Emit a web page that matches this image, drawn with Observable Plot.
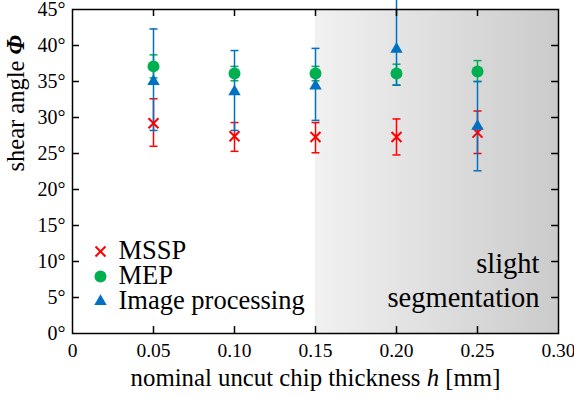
<!DOCTYPE html>
<html>
<head>
<meta charset="utf-8">
<script src="https://cdn.jsdelivr.net/npm/d3@7"></script>
<script src="https://cdn.jsdelivr.net/npm/@observablehq/plot@0.6"></script>
<style>
  html, body { margin: 0; padding: 0; background: #fff; font-family: 'Liberation Serif', serif; }
  #chart { width: 574px; height: 401px; }
</style>
</head>
<body>
<div id="chart"></div>
<script>
// ---- data ----
const h = [0.05, 0.10, 0.15, 0.20, 0.25];
const msspMean = [29.2, 27.4, 27.3, 27.3, 27.9];
const msspLo   = [26.0, 25.3, 25.1, 24.8, 25.0];
const msspHi   = [32.6, 29.3, 29.3, 29.8, 30.9];
const mepMean  = [37.1, 36.1, 36.1, 36.1, 36.4];
const mepLo    = [35.5, 35.1, 35.1, 34.5, 35.0];
const mepHi    = [38.7, 37.1, 37.1, 37.4, 37.9];
const ipMean   = [35.0, 33.6, 34.4, 39.5, 28.8];
const ipLo     = [28.2, 28.2, 29.6, 34.5, 22.6];
const ipHi     = [42.3, 39.3, 39.6, 47.0, 35.0];

const seriesNames = ["MSSP", "MEP", "Image processing"];
const seriesColors = ["#ff0000", "#00b050", "#0070c0"];
const seriesSymbols = ["times", "circle", "triangle"];

const xTicks = [0, 0.05, 0.10, 0.15, 0.20, 0.25, 0.30];
const yTicks = [0, 5, 10, 15, 20, 25, 30, 35, 40, 45];
const segRegion = [{x1: 0.15, x2: 0.30}];
const segText = ["slight", "segmentation"];
const xLabel = "nominal uncut chip thickness h [mm]";
const yLabel = "shear angle Φ";

// ---- build ----
const W = 574, H = 401;
const mT = 9, mB = 68, mL = 72, mR = 16;
const plotW = W - mL - mR, plotH = H - mT - mB;
const tickLen = 7;
const FONT = "Liberation Serif";

const series = [
  {mean: msspMean, lo: msspLo, hi: msspHi},
  {mean: mepMean, lo: mepLo, hi: mepHi},
  {mean: ipMean, lo: ipLo, hi: ipHi}
].map((s, k) => h.map((x, i) => ({x, y: s.mean[i], lo: s.lo[i], hi: s.hi[i], k})));

const cap = {
  draw(context, size) {
    const w = Math.sqrt(size / Math.PI);
    context.moveTo(-w, 0);
    context.lineTo(w, 0);
  }
};

const markerOpts = (k) => {
  const c = seriesColors[k], sym = seriesSymbols[k];
  if (sym === "times") return {symbol: "times", r: 4.6, stroke: c, strokeWidth: 2};
  if (sym === "circle") return {symbol: "circle", r: 6, fill: c, stroke: "none"};
  return {symbol: "triangle", r: 4.6, fill: c, stroke: "none"};
};

const marks = [
  Plot.rect(segRegion, {x1: "x1", x2: "x2", fill: "url(#segGrad)"}),
];

// error bars
series.forEach((data, k) => {
  const c = seriesColors[k];
  marks.push(Plot.ruleX(data, {x: "x", y1: "lo", y2: "hi", stroke: c, strokeWidth: 1.5}));
  marks.push(Plot.dot(data, {x: "x", y: "lo", symbol: cap, r: 4, stroke: c, strokeWidth: 1.5}));
  marks.push(Plot.dot(data, {x: "x", y: "hi", symbol: cap, r: 4, stroke: c, strokeWidth: 1.5}));
});
// markers
series.forEach((data, k) => {
  marks.push(Plot.dot(data, {x: "x", y: "y", ...markerOpts(k)}));
});

// inward ticks
const innerX = xTicks.slice(1, -1), innerY = yTicks.slice(1, -1);
marks.push(Plot.tickX(innerX, {x: d => d, insetTop: plotH - tickLen, stroke: "black", strokeWidth: 1.5}));
marks.push(Plot.tickX(innerX, {x: d => d, insetBottom: plotH - tickLen, stroke: "black", strokeWidth: 1.5}));
marks.push(Plot.tickY(innerY, {y: d => d, insetRight: plotW - tickLen, stroke: "black", strokeWidth: 1.5}));
marks.push(Plot.tickY(innerY, {y: d => d, insetLeft: plotW - tickLen, stroke: "black", strokeWidth: 1.5}));

// axes (labels only)
marks.push(Plot.axisX(xTicks, {anchor: "bottom", tickSize: 0, tickPadding: 10, label: null,
  tickFormat: d => d === 0 ? "0" : d.toFixed(2), fontSize: 19.5}));
marks.push(Plot.axisY(yTicks, {anchor: "left", tickSize: 0, tickPadding: 7, label: null,
  tickFormat: d => d + "°", fontSize: 20}));

marks.push(Plot.frame({stroke: "black", strokeWidth: 1.5}));

// axis titles
marks.push(Plot.text([xLabel], {text: d => d, frameAnchor: "bottom", dy: 52, fontSize: 24.8, fill: "black"}));
marks.push(Plot.text([yLabel], {text: d => d, frameAnchor: "left", rotate: -90, dx: -56, fontSize: 24.5, fill: "black"}));

// legend
const rowH = 25;
seriesNames.forEach((name, i) => {
  const dy = -82 + i * rowH;
  marks.push(Plot.dot([name], {frameAnchor: "bottom-left", dx: 28, dy, ...markerOpts(i)}));
  marks.push(Plot.text([name], {text: d => d, frameAnchor: "bottom-left", dx: 46, dy: dy + 7, textAnchor: "start", fontSize: 26.5, fill: "black"}));
});

// annotation
segText.forEach((t, i) => {
  marks.push(Plot.text([t], {text: d => d, frameAnchor: "bottom-right", dx: -19, dy: i === 0 ? -61 : -27, textAnchor: "end", fontSize: 28.5, fill: "black"}));
});

const svg = Plot.plot({
  width: W, height: H,
  marginTop: mT, marginBottom: mB, marginLeft: mL, marginRight: mR,
  style: {background: "white", color: "black"},
  x: {domain: [0, 0.30]},
  y: {domain: [0, 45]},
  marks
});

// serif font on every text element and group
const sel = d3.select(svg);
sel.attr("font-family", FONT).style("font-family", FONT);
sel.selectAll("g").each(function() {
  if (this.hasAttribute("font-family")) this.setAttribute("font-family", FONT);
});
sel.selectAll("text").attr("font-family", FONT).style("font-family", FONT);

// gradient defs
const defs = sel.insert("defs", ":first-child");
const grad = defs.append("linearGradient").attr("id", "segGrad").attr("x1", "0").attr("x2", "1").attr("y1", "0").attr("y2", "0");
grad.append("stop").attr("offset", "0").attr("stop-color", "#f1f1f1");
grad.append("stop").attr("offset", "1").attr("stop-color", "#cbcbcb");

// italic h and bold-italic Φ
sel.selectAll("text").each(function() {
  const t = d3.select(this);
  if (this.textContent === xLabel) {
    t.text(null);
    t.append("tspan").text("nominal uncut chip thickness ");
    t.append("tspan").attr("font-style", "italic").text("h");
    t.append("tspan").text(" [mm]");
  } else if (this.textContent === yLabel) {
    t.text(null);
    t.append("tspan").text("shear angle ");
    t.append("tspan").attr("font-style", "italic").attr("font-weight", "bold").text("Φ");
  }
});

document.getElementById("chart").appendChild(svg);
</script>
</body>
</html>
